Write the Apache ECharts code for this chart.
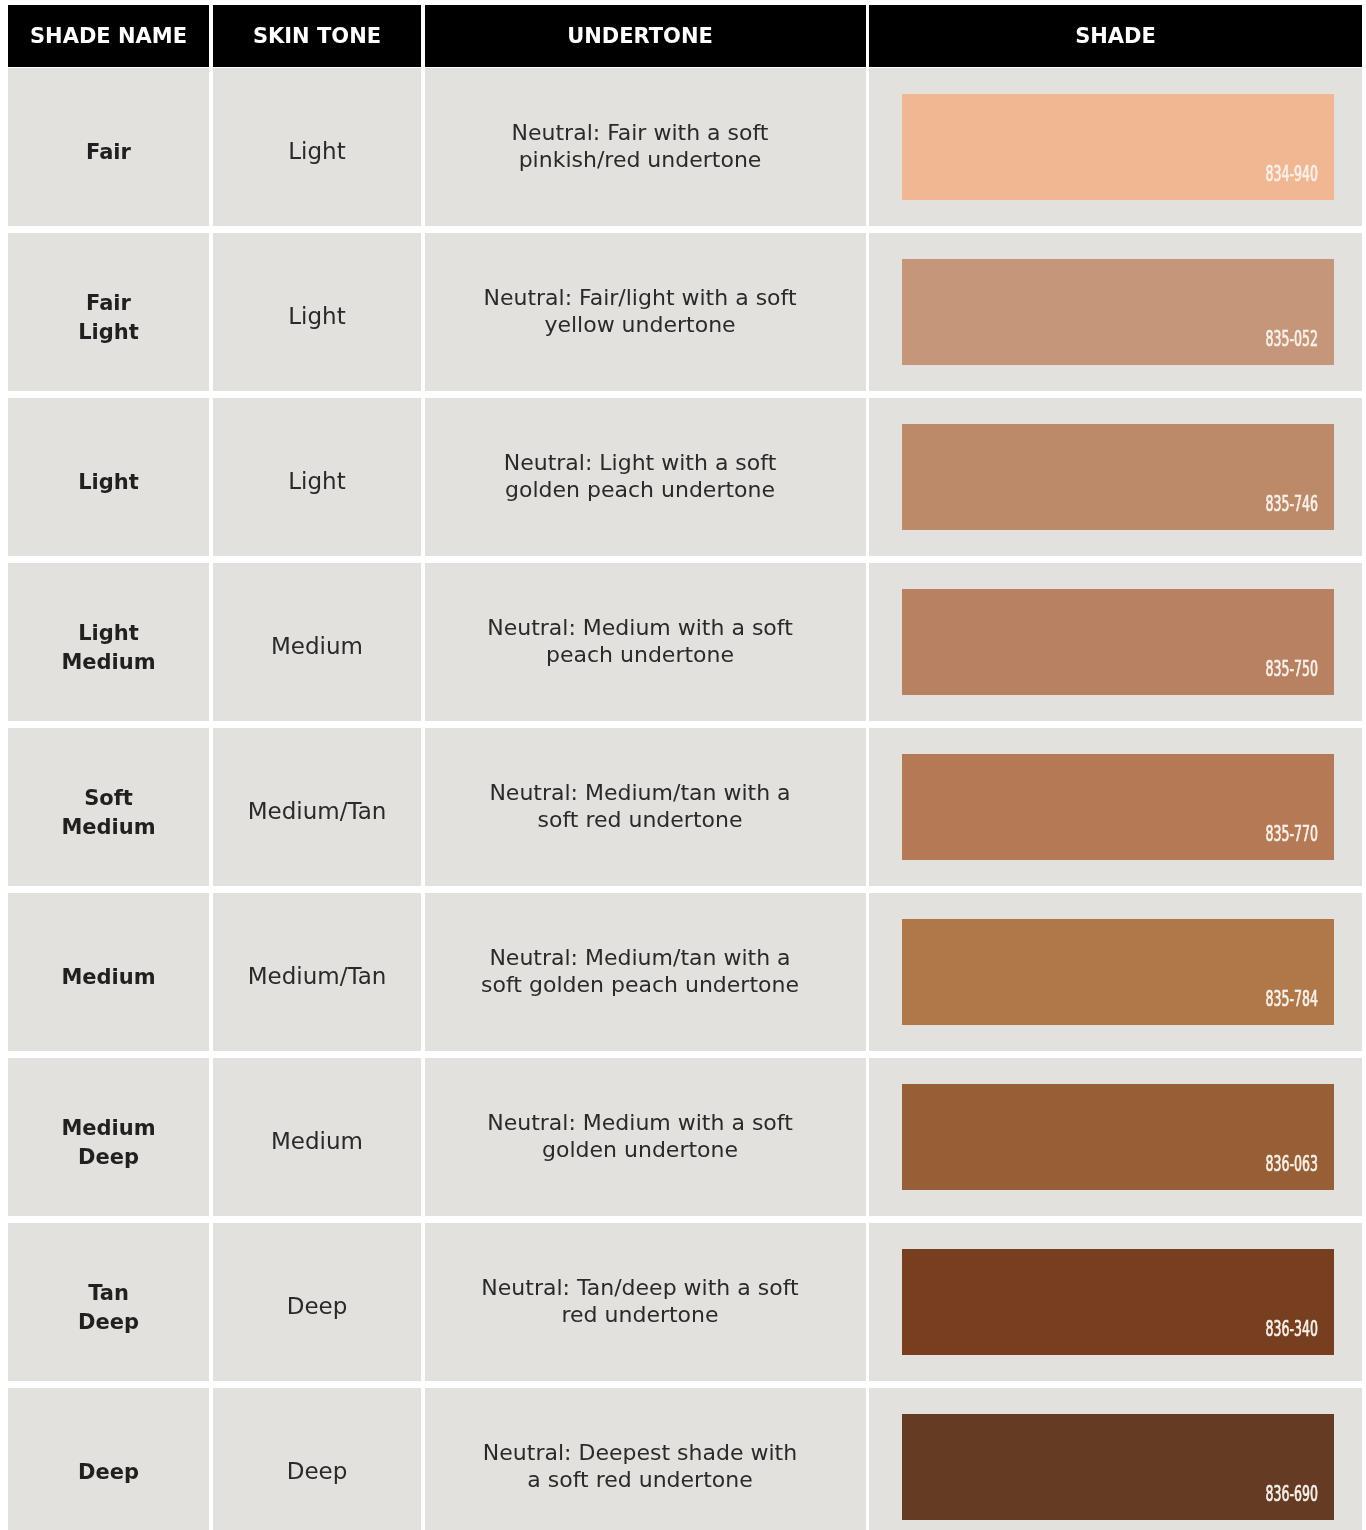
<!DOCTYPE html>
<html>
<head>
<meta charset="utf-8">
<script src="https://cdn.jsdelivr.net/npm/echarts@6/dist/echarts.min.js"></script>
<style>
html,body{margin:0;padding:0;background:#ffffff;overflow:hidden;}
#c{width:1366px;height:1570px;}
</style>
</head>
<body>
<div id="c"></div>
<script>
// ---- data ----
const headers = ['SHADE NAME', 'SKIN TONE', 'UNDERTONE', 'SHADE'];
const shadeNames = ['Fair', 'Fair\nLight', 'Light', 'Light\nMedium', 'Soft\nMedium', 'Medium', 'Medium\nDeep', 'Tan\nDeep', 'Deep'];
const skinTones = ['Light', 'Light', 'Light', 'Medium', 'Medium/Tan', 'Medium/Tan', 'Medium', 'Deep', 'Deep'];
const undertones = [
  'Neutral: Fair with a soft\npinkish/red undertone',
  'Neutral: Fair/light with a soft\nyellow undertone',
  'Neutral: Light with a soft\ngolden peach undertone',
  'Neutral: Medium with a soft\npeach undertone',
  'Neutral: Medium/tan with a\nsoft red undertone',
  'Neutral: Medium/tan with a\nsoft golden peach undertone',
  'Neutral: Medium with a soft\ngolden undertone',
  'Neutral: Tan/deep with a soft\nred undertone',
  'Neutral: Deepest shade with\na soft red undertone'
];
const shadeCodes = ['834-940', '835-052', '835-746', '835-750', '835-770', '835-784', '836-063', '836-340', '836-690'];
const shadeColors = ['#F1B793', '#C59679', '#BD8A69', '#B88262', '#B57A55', '#B07849', '#975F35', '#773F1F', '#663B23'];

// ---- layout (styles, not data) ----
const COLS = [[8, 209, 108.5], [213, 421, 317], [425, 866, 640], [869, 1362, 1115.5]];
const SW_X = [902, 1334];
const SW_H = 106;
const CELL_H = 158;
const ROW_PITCH = 165;
const CELL_BG = '#e2e1dd';
const TXT = '#2a2a2a';
const FONT = '"DejaVu Sans", "Noto Sans", sans-serif';

const chart = echarts.init(document.getElementById('c'));

function renderHeader(params, api) {
  const k = api.value(0);
  const c = api.coord([0, 0]);
  const h = api.size([0, 1])[1];
  const top = c[1] - h / 2;
  const xa = api.coord([COLS[k][0], 0])[0];
  const xb = api.coord([COLS[k][1], 0])[0];
  const cx = api.coord([COLS[k][2], 0])[0];
  return {
    type: 'group',
    children: [
      { type: 'rect', shape: { x: xa, y: top, width: xb - xa, height: h }, style: { fill: '#000000' } },
      { type: 'text', x: cx, y: top + h / 2 + 2, style: {
          text: headers[k], textAlign: 'center', textVerticalAlign: 'middle',
          fontFamily: FONT, fontWeight: 'bold', fontSize: 21, fill: '#ffffff' } }
    ]
  };
}

function renderRow(params, api) {
  const i = api.value(1);
  const c = api.coord([0, i]);
  const band = api.size([0, 1])[1];
  const top = c[1] - band / 2;
  const mid = top + CELL_H / 2;
  const children = [];
  COLS.forEach(function (col) {
    const xa = api.coord([col[0], i])[0];
    const xb = api.coord([col[1], i])[0];
    children.push({ type: 'rect', shape: { x: xa, y: top, width: xb - xa, height: CELL_H }, style: { fill: CELL_BG } });
  });
  const cx = COLS.map(function (col) { return api.coord([col[2], i])[0]; });
  children.push({ type: 'text', x: cx[0], y: mid + 7, style: {
    text: shadeNames[i], textAlign: 'center', textVerticalAlign: 'middle', lineHeight: 29,
    fontFamily: FONT, fontWeight: 'bold', fontSize: 21, fill: '#231f20' } });
  children.push({ type: 'text', x: cx[1], y: mid + 6, style: {
    text: skinTones[i], textAlign: 'center', textVerticalAlign: 'middle',
    fontFamily: FONT, fontSize: 23, fill: TXT } });
  children.push({ type: 'text', x: cx[2], y: mid + 1, style: {
    text: undertones[i], textAlign: 'center', textVerticalAlign: 'middle', lineHeight: 27,
    fontFamily: FONT, fontSize: 22, fill: TXT } });
  const sx0 = api.coord([SW_X[0], i])[0];
  const sx1 = api.coord([SW_X[1], i])[0];
  const sy = mid - SW_H / 2;
  children.push({ type: 'rect', shape: { x: sx0, y: sy, width: sx1 - sx0, height: SW_H }, style: { fill: shadeColors[i] } });
  children.push({ type: 'text', x: sx1 - 16, y: sy + SW_H - 24, scaleX: 0.68, scaleY: 1, style: {
    x: 0, y: 0, text: shadeCodes[i], textAlign: 'right', textVerticalAlign: 'middle',
    fontFamily: '"DejaVu Sans Condensed", "DejaVu Sans", sans-serif', fontSize: 20.5,
    fill: '#f7f1ea', stroke: '#f7f1ea', lineWidth: 0.7 } });
  return { type: 'group', children: children };
}

chart.setOption({
  animation: false,
  backgroundColor: '#ffffff',
  grid: [
    { left: 0, right: 0, top: 5, height: 62 },
    { left: 0, right: 0, top: 68, height: ROW_PITCH * shadeNames.length }
  ],
  xAxis: [
    { type: 'value', gridIndex: 0, min: 0, max: 1366, show: false },
    { type: 'value', gridIndex: 1, min: 0, max: 1366, show: false }
  ],
  yAxis: [
    { type: 'category', gridIndex: 0, data: ['header'], show: false },
    { type: 'category', gridIndex: 1, data: shadeNames, inverse: true, show: false }
  ],
  series: [
    {
      type: 'custom', xAxisIndex: 0, yAxisIndex: 0,
      data: headers.map(function (h, k) { return [k, 0]; }),
      encode: { x: 0, y: 1 },
      renderItem: renderHeader
    },
    {
      type: 'custom', xAxisIndex: 1, yAxisIndex: 1,
      data: shadeNames.map(function (n, i) { return [0, i]; }),
      encode: { x: 0, y: 1 },
      renderItem: renderRow
    }
  ]
});
</script>
</body>
</html>
